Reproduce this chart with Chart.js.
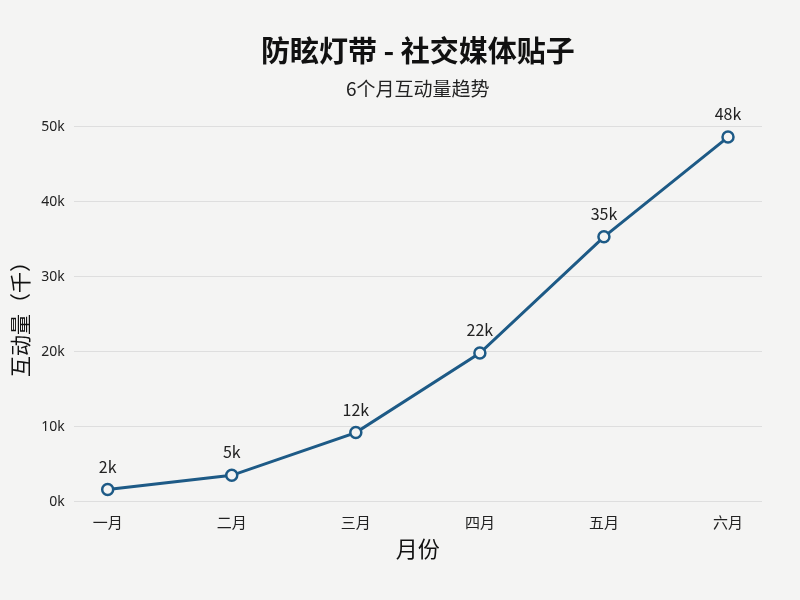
<!DOCTYPE html>
<html>
<head>
<meta charset="utf-8">
<script src="https://cdn.jsdelivr.net/npm/chart.js@4"></script>
<style>
  html, body { margin: 0; padding: 0; background: #f4f4f3; }
</style>
</head>
<body>
<canvas id="myChart" width="800" height="600"></canvas>
<script>
const months = ['一月', '二月', '三月', '四月', '五月', '六月'];
const interactions = [1.6, 3.5, 9.2, 19.8, 35.3, 48.6]; // 千
const pointLabels = ['2k', '5k', '12k', '22k', '35k', '48k'];
const yTicks = [0, 10, 20, 30, 40, 50];

const FONT = "'Noto Sans CJK SC', 'Noto Sans', sans-serif";

// labels above each point
const valueLabels = {
    id: 'valueLabels',
    afterDatasetsDraw(chart) {
        const ctx = chart.ctx;
        const meta = chart.getDatasetMeta(0);
        ctx.save();
        ctx.font = '16px ' + FONT;
        ctx.fillStyle = '#222';
        ctx.textAlign = 'center';
        ctx.textBaseline = 'middle';
        meta.data.forEach((pt, i) => {
            ctx.fillText(pointLabels[i], pt.x, pt.y - 23);
        });
        ctx.restore();
    }
};

const ctx = document.getElementById('myChart');

new Chart(ctx, {
    type: 'line',
    data: {
        datasets: [{
            label: '互动量',
            data: interactions.map((v, i) => ({ x: i, y: v })),
            borderColor: '#1d5a86',
            borderWidth: 3,
            pointRadius: 5.5,
            pointBorderWidth: 2.5,
            pointBackgroundColor: '#f4f4f3',
            pointBorderColor: '#1d5a86',
            tension: 0,
            clip: false
        }]
    },
    options: {
        responsive: false,
        animation: false,
        devicePixelRatio: 1,
        layout: { padding: { left: 7, right: 38, top: 20, bottom: 34 } },
        plugins: {
            legend: { display: false },
            tooltip: { enabled: false },
            title: {
                display: true,
                fullSize: false,
                text: '防眩灯带 - 社交媒体贴子',
                color: '#111',
                font: { family: FONT, size: 29, weight: 'bold' },
                padding: { top: 14, bottom: 9 }
            },
            subtitle: {
                display: true,
                fullSize: false,
                text: '6个月互动量趋势',
                color: '#222',
                font: { family: FONT, size: 19 },
                padding: { bottom: 26 }
            }
        },
        scales: {
            x: {
                type: 'linear',
                min: -0.274,
                max: 5.274,
                afterBuildTicks(scale) {
                    scale.ticks = months.map((m, i) => ({ value: i }));
                },
                ticks: {
                    callback: v => months[v],
                    color: '#222',
                    font: { family: FONT, size: 15 },
                    padding: 4
                },
                grid: { display: false },
                border: { display: false },
                title: {
                    display: true,
                    text: '月份',
                    color: '#111',
                    font: { family: FONT, size: 22 },
                    padding: { top: 0 }
                }
            },
            y: {
                min: 0,
                max: 50,
                afterBuildTicks(scale) {
                    scale.ticks = yTicks.map(v => ({ value: v }));
                },
                ticks: {
                    callback: v => v + 'k',
                    color: '#222',
                    font: { family: 'Noto Sans', size: 14 },
                    padding: 9
                },
                grid: { color: '#dedede', lineWidth: 1, drawTicks: false },
                border: { display: false },
                title: {
                    display: true,
                    text: '互动量（千）',
                    color: '#111',
                    font: { family: FONT, size: 21 },
                    padding: { top: 0, bottom: 0 }
                }
            }
        }
    },
    plugins: [valueLabels]
});
</script>
</body>
</html>
